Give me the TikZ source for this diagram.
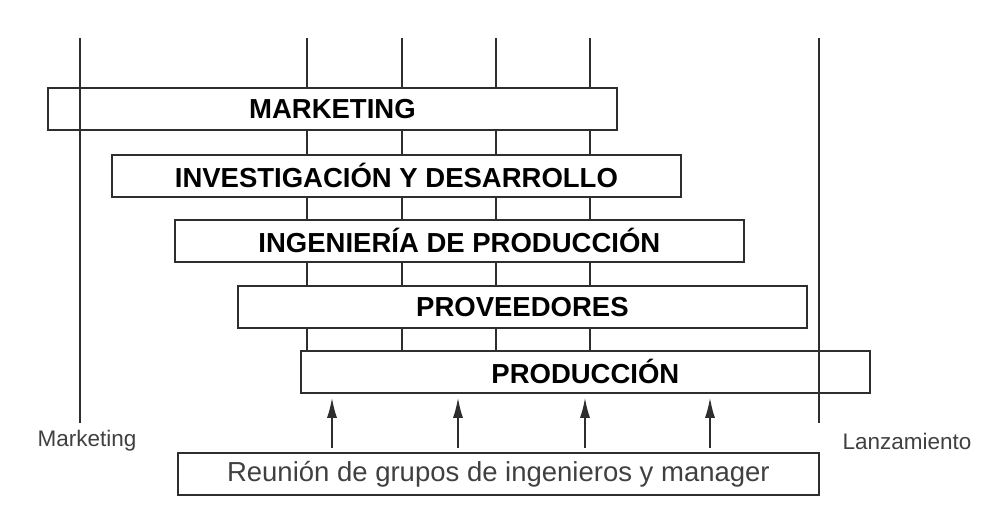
\documentclass[tikz,border=0pt]{standalone}
\usepackage{fontspec}
\setmainfont{Liberation Sans}
\usetikzlibrary{arrows.meta}
\definecolor{linegray}{HTML}{2E2E2E}
\definecolor{textgray}{HTML}{404040}

\begin{document}
\begin{tikzpicture}[
  x=1pt, y=-1pt,
  every node/.style={inner sep=0pt, font=\fontsize{27.5}{30}\selectfont},
  stage/.style={draw=linegray, fill=white, line width=1.8pt, minimum width=569pt, minimum height=42pt, font=\fontsize{27.5}{30}\selectfont\bfseries},
  phase/.style={draw=linegray, line width=1.5pt},
  flecha/.style={draw=linegray, line width=1.5pt, -{Latex[length=20pt,width=10pt]}, shorten <=4pt, shorten >=4pt},
  side/.style={text=textgray, font=\fontsize{22.5}{25}\selectfont}
]
\useasboundingbox (0,0) rectangle (983,521);

% milestones
\coordinate (m1) at (80,38);
\coordinate (m2) at (307,38);
\coordinate (m3) at (402,38);
\coordinate (m4) at (496,38);
\coordinate (m5) at (590,38);
\coordinate (m6) at (819,38);

\node[stage, anchor=north west] (prod) at (300,350) {PRODUCCIÓN};
\foreach \m in {m2,m3,m4,m5}
  \draw[phase] (\m) -- (\m |- prod.north);

\node[stage, anchor=north west] (mkt)  at (47,87)   {MARKETING};
\node[stage, anchor=north west] (iyd)  at (111,154) {INVESTIGACIÓN Y DESARROLLO};
\node[stage, anchor=north west] (ing)  at (174,219) {INGENIERÍA DE PRODUCCIÓN};
\node[stage, anchor=north west] (prov) at (237,285) {PROVEEDORES};

\coordinate (m1end) at (80,423);
\coordinate (m6end) at (819,423);
\draw[phase] (m1) -- (m1end);
\draw[phase] (m6) -- (m6end);

\node[side] (inicio) at (87,441) {Marketing};
\node[side] (lanz)   at (907,441) {Lanzamiento};

\node[draw=linegray, line width=1.8pt, minimum width=641pt, minimum height=42pt, text=textgray, anchor=north west] (reunion) at (177,452)
  {Reunión de grupos de ingenieros y manager};

% meetings
\foreach \x in {332,458,585,710}
  \draw[flecha] (reunion.north -| \x,0) -- (prod.south -| \x,0);
\end{tikzpicture}
\end{document}
